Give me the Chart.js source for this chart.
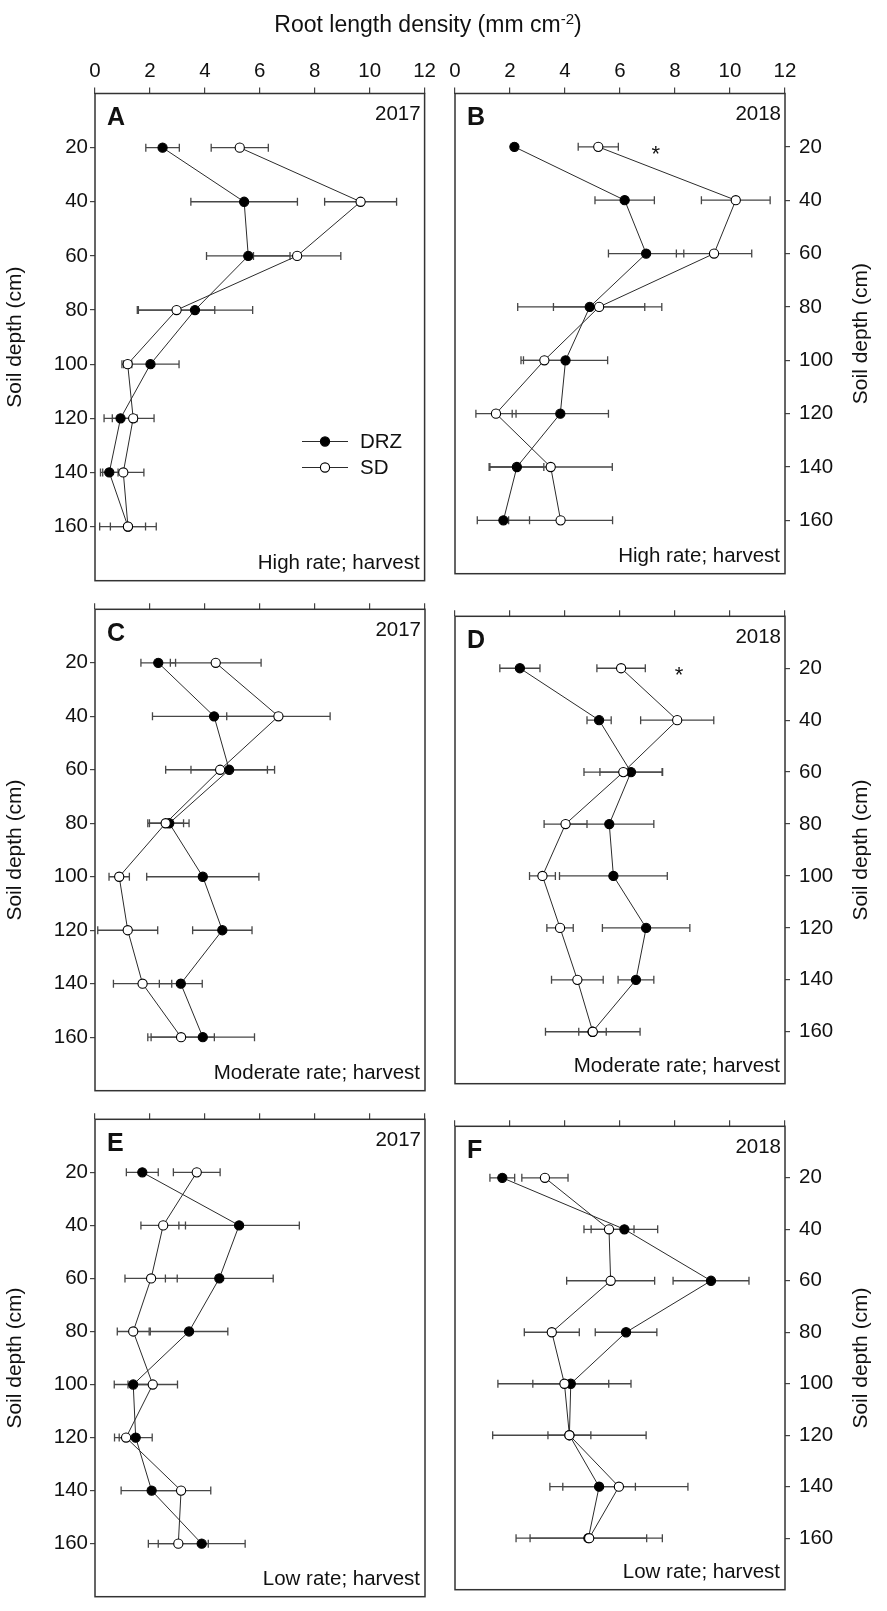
<!DOCTYPE html>
<html lang="en">
<head>
<meta charset="UTF-8">
<title>Root length density</title>
<script src="https://cdn.jsdelivr.net/npm/chart.js"></script>
<style>
    body {
        margin: 0;
        background: #fff;
        font-family: "Liberation Sans", Arial, sans-serif;
    }

    #page {
        position: relative;
        width: 887px;
        height: 1611px;
        overflow: hidden;
    }

    #page canvas {
        position: absolute;
    }

    /* figure title, spans both columns */
    .title {
        position: absolute;
        top: 11px;
        left: 0;
        width: 856px;
        text-align: center;
        font-size: 23px;
        line-height: 26px;
        color: #111;
        z-index: 2;
    }

    .title sup {
        font-size: 15px;
        vertical-align: 8px;
        line-height: 0;
    }
</style>
</head>
<body>
<div id="page">
    <div class="title">Root length density (mm cm<sup>-2</sup>)</div>
    <canvas id="cA"></canvas>
    <canvas id="cB"></canvas>
    <canvas id="cC"></canvas>
    <canvas id="cD"></canvas>
    <canvas id="cE"></canvas>
    <canvas id="cF"></canvas>
</div>

<script>
    // soil depths (cm) shared by every panel
    var depths = [20, 40, 60, 80, 100, 120, 140, 160];

    // A: high rate, 2017
    var drzA = [2.46, 5.43, 5.58, 3.64, 2.02, 0.93, 0.52, 1.20];
    var drzAErr = [0.61, 1.94, 1.52, 2.10, 1.04, 0.60, 0.32, 1.03];
    var sdA = [5.27, 9.67, 7.36, 2.97, 1.19, 1.39, 1.03, 1.20];
    var sdAErr = [1.04, 1.31, 1.59, 1.39, 0.15, 0.76, 0.75, 0.64];

    // B: high rate, 2018
    var drzB = [2.16, 6.17, 6.95, 4.90, 4.02, 3.83, 2.25, 1.76];
    var drzBErr = [0.05, 1.08, 1.37, 2.62, 1.53, 1.75, 0.98, 0.95];
    var sdB = [5.21, 10.21, 9.42, 5.24, 3.25, 1.49, 3.48, 3.84];
    var sdBErr = [0.73, 1.25, 1.37, 1.66, 0.85, 0.73, 2.24, 1.89];

    // C: moderate rate, 2017
    var drzC = [2.30, 4.33, 4.88, 2.70, 3.92, 4.63, 3.12, 3.92];
    var drzCErr = [0.63, 2.24, 1.39, 0.72, 2.04, 1.08, 0.78, 1.88];
    var sdC = [4.39, 6.67, 4.55, 2.57, 0.88, 1.19, 1.73, 3.13];
    var sdCErr = [1.65, 1.88, 1.98, 0.65, 0.37, 1.09, 1.06, 1.21];

    // D: moderate rate, 2018
    var drzD = [2.36, 5.24, 6.40, 5.61, 5.76, 6.95, 6.58, 5.00];
    var drzDErr = [0.73, 0.44, 1.13, 1.62, 1.96, 1.59, 0.65, 0.50];
    var sdD = [6.04, 8.08, 6.12, 4.02, 3.18, 3.82, 4.45, 5.01];
    var sdDErr = [0.88, 1.33, 1.43, 0.78, 0.47, 0.48, 0.94, 1.72];

    // E: low rate, 2017
    var drzE = [1.72, 5.24, 4.52, 3.42, 1.39, 1.48, 2.06, 3.88];
    var drzEErr = [0.58, 2.19, 1.96, 1.41, 0.69, 0.60, 1.11, 1.58];
    var sdE = [3.70, 2.48, 2.04, 1.39, 2.10, 1.13, 3.13, 3.03];
    var sdEErr = [0.85, 0.81, 0.95, 0.58, 0.90, 0.42, 1.08, 1.09];

    // F: low rate, 2018
    var drzF = [1.72, 6.16, 9.31, 6.22, 4.21, 4.16, 5.24, 4.85];
    var drzFErr = [0.45, 1.21, 1.38, 1.12, 1.38, 0.78, 1.32, 2.12];
    var sdF = [3.27, 5.60, 5.66, 3.52, 3.98, 4.16, 5.96, 4.88];
    var sdFErr = [0.84, 0.91, 1.60, 1.00, 2.42, 2.79, 2.51, 2.66];

    // axis ticks
    var xTicks = [0, 2, 4, 6, 8, 10, 12];
    var depthTicks = [20, 40, 60, 80, 100, 120, 140, 160];

    // panel annotations
    var panelLetters = ['A', 'B', 'C', 'D', 'E', 'F'];
    var panelYears = ['2017', '2018', '2017', '2018', '2017', '2018'];
    var panelRates = ['High rate; harvest', 'High rate; harvest',
        'Moderate rate; harvest', 'Moderate rate; harvest',
        'Low rate; harvest', 'Low rate; harvest'];
    var starX = [null, 7.3, null, 8.15, null, null]; // significance mark at 20 cm
    var starDepth = 20;

    var drzVals = [drzA, drzB, drzC, drzD, drzE, drzF];
    var drzErrs = [drzAErr, drzBErr, drzCErr, drzDErr, drzEErr, drzFErr];
    var sdVals = [sdA, sdB, sdC, sdD, sdE, sdF];
    var sdErrs = [sdAErr, sdBErr, sdCErr, sdDErr, sdEErr, sdFErr];

    // page layout
    var FAMILY = '"Liberation Sans", Arial, sans-serif';
    var INK = '#111';
    var colLeft = [0, 440];
    var colWidth = [440, 447];
    var yAxisW = [95, 102];
    var rowTop = [0, 595, 1105];
    var rowHeight = [595, 510, 506];
    var xAxisH = [93.5, 8.5, 8.5];
    var plotH = 495;

    // horizontal error bars, drawn under lines and markers
    var errorBars = {
        id: 'errorBars',
        beforeDatasetsDraw: function (chart) {
            var ctx = chart.ctx;
            var xs = chart.scales.x;
            ctx.save();
            ctx.strokeStyle = '#474747';
            ctx.lineWidth = 1.3;
            chart.data.datasets.forEach(function (ds, di) {
                var meta = chart.getDatasetMeta(di);
                meta.data.forEach(function (pt, k) {
                    var v = ds.data[k].x;
                    var e = ds.errors[k];
                    var x0 = xs.getPixelForValue(v - e);
                    var x1 = xs.getPixelForValue(v + e);
                    var y = pt.y;
                    ctx.beginPath();
                    ctx.moveTo(x0, y);
                    ctx.lineTo(x1, y);
                    ctx.moveTo(x0, y - 4);
                    ctx.lineTo(x0, y + 4);
                    ctx.moveTo(x1, y - 4);
                    ctx.lineTo(x1, y + 4);
                    ctx.stroke();
                });
            });
            ctx.restore();
        }
    };

    // frame, panel letter, year, rate label, star, legend and depth title
    var panelText = {
        id: 'panelText',
        afterDraw: function (chart, args, opts) {
            var i = opts.index;
            var col = i % 2;
            var ctx = chart.ctx;
            var a = chart.chartArea;
            var xs = chart.scales.x;
            var ys = chart.scales.y;
            ctx.save();

            ctx.strokeStyle = '#333';
            ctx.lineWidth = 1.5;
            ctx.strokeRect(a.left, a.top, a.right - a.left, a.bottom - a.top);

            ctx.fillStyle = INK;
            ctx.textBaseline = 'alphabetic';
            ctx.font = 'bold 25px ' + FAMILY;
            ctx.textAlign = 'left';
            ctx.fillText(panelLetters[i], a.left + 12, a.top + 31.5);

            ctx.font = '20.5px ' + FAMILY;
            ctx.textAlign = 'right';
            ctx.fillText(panelYears[i], a.right - 4, a.top + 26.5);
            ctx.fillText(panelRates[i], a.right - 5, a.bottom - 11.5);

            if (starX[i] !== null) {
                ctx.font = '22px ' + FAMILY;
                ctx.textAlign = 'center';
                ctx.fillText('*', xs.getPixelForValue(starX[i]), ys.getPixelForValue(starDepth) + 14);
            }

            if (i === 0) {
                var names = ['DRZ', 'SD'];
                var fills = ['#000', '#fff'];
                for (var k = 0; k < 2; k++) {
                    var ly = a.top + 348 + k * 26;
                    ctx.strokeStyle = '#2b2b2b';
                    ctx.lineWidth = 1;
                    ctx.beginPath();
                    ctx.moveTo(a.left + 207, ly);
                    ctx.lineTo(a.left + 253, ly);
                    ctx.stroke();
                    ctx.beginPath();
                    ctx.arc(a.left + 230, ly, 4.6, 0, Math.PI * 2);
                    ctx.fillStyle = fills[k];
                    ctx.fill();
                    ctx.strokeStyle = '#000';
                    ctx.lineWidth = 1.1;
                    ctx.stroke();
                    ctx.fillStyle = INK;
                    ctx.font = '20.5px ' + FAMILY;
                    ctx.textAlign = 'left';
                    ctx.textBaseline = 'middle';
                    ctx.fillText(names[k], a.left + 265, ly + 1);
                }
            }

            // depth axis title
            ctx.fillStyle = INK;
            ctx.font = '21px ' + FAMILY;
            ctx.textAlign = 'center';
            ctx.textBaseline = 'middle';
            ctx.translate(col === 0 ? 15 : 861 - colLeft[1], (a.top + a.bottom) / 2);
            ctx.rotate(-Math.PI / 2);
            ctx.fillText('Soil depth (cm)', 0, 0);
            ctx.restore();
        }
    };

    function makePanel(i) {
        var col = i % 2;
        var row = Math.floor(i / 2);
        var canvas = document.getElementById('c' + panelLetters[i]);
        canvas.width = colWidth[col];
        canvas.height = rowHeight[row];
        canvas.style.left = colLeft[col] + 'px';
        canvas.style.top = rowTop[row] + 'px';
        canvas.style.width = colWidth[col] + 'px';
        canvas.style.height = rowHeight[row] + 'px';

        var tickFont = { family: FAMILY, size: 20.5 };

        new Chart(canvas, {
            type: 'scatter',
            data: {
                datasets: [{
                    label: 'DRZ',
                    data: depths.map(function (d, k) { return { x: drzVals[i][k], y: d }; }),
                    errors: drzErrs[i],
                    showLine: true,
                    borderColor: '#2b2b2b',
                    borderWidth: 1,
                    pointRadius: 4.6,
                    pointBackgroundColor: '#000',
                    pointBorderColor: '#000',
                    pointBorderWidth: 1.1,
                    order: 2
                }, {
                    label: 'SD',
                    data: depths.map(function (d, k) { return { x: sdVals[i][k], y: d }; }),
                    errors: sdErrs[i],
                    showLine: true,
                    borderColor: '#2b2b2b',
                    borderWidth: 1,
                    pointRadius: 4.6,
                    pointBackgroundColor: '#fff',
                    pointBorderColor: '#000',
                    pointBorderWidth: 1.1,
                    order: 1
                }]
            },
            options: {
                responsive: false,
                animation: false,
                devicePixelRatio: 1,
                layout: {
                    padding: {
                        left: col === 0 ? 0 : 15,
                        right: col === 0 ? 15 : 0,
                        top: 0,
                        bottom: rowHeight[row] - xAxisH[row] - plotH
                    }
                },
                plugins: {
                    legend: { display: false },
                    tooltip: { enabled: false },
                    panelText: { index: i }
                },
                scales: {
                    x: {
                        type: 'linear',
                        position: 'top',
                        min: 0,
                        max: 12,
                        afterBuildTicks: function (s) {
                            s.ticks = xTicks.map(function (v) { return { value: v }; });
                        },
                        afterFit: function (s) { s.height = xAxisH[row]; },
                        ticks: {
                            display: row === 0,
                            font: tickFont,
                            color: INK,
                            padding: 4,
                            maxRotation: 0
                        },
                        grid: {
                            drawOnChartArea: false,
                            drawTicks: true,
                            tickLength: 6,
                            color: '#444',
                            lineWidth: 1.2
                        },
                        border: { display: false }
                    },
                    y: {
                        type: 'linear',
                        position: col === 0 ? 'left' : 'right',
                        reverse: true,
                        min: 0,
                        max: 180,
                        afterBuildTicks: function (s) {
                            s.ticks = depthTicks.map(function (v) { return { value: v }; });
                        },
                        afterFit: function (s) { s.width = yAxisW[col]; },
                        ticks: {
                            font: tickFont,
                            color: INK,
                            padding: col === 0 ? 2 : 9
                        },
                        grid: {
                            drawOnChartArea: false,
                            drawTicks: true,
                            tickLength: 5,
                            color: '#444',
                            lineWidth: 1.2
                        },
                        border: { display: false }
                    }
                }
            },
            plugins: [errorBars, panelText]
        });
    }

    for (var p = 0; p < 6; p++) {
        makePanel(p);
    }
</script>
</body>
</html>
